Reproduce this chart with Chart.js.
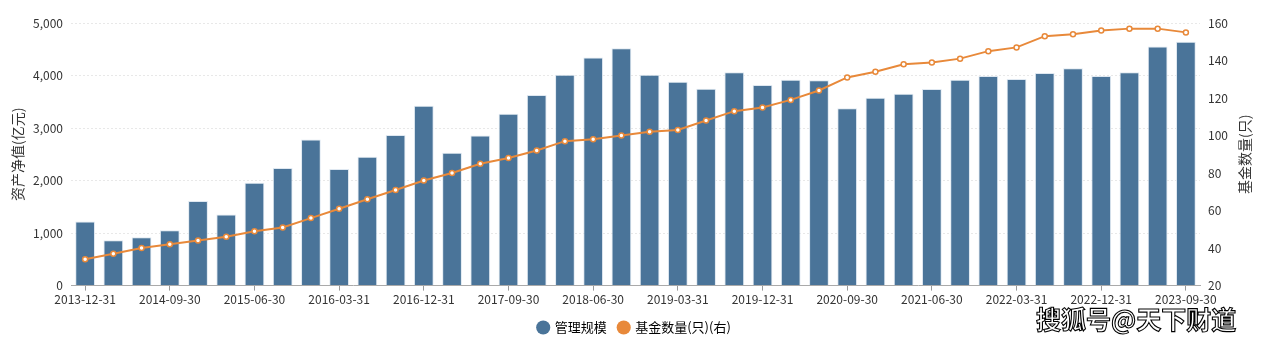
<!DOCTYPE html>
<html>
<head>
<meta charset="utf-8">
<script src="https://cdn.jsdelivr.net/npm/chart.js@4/dist/chart.umd.min.js"></script>
<style>
  html, body { margin: 0; padding: 0; background: #fff; }
  #wrap { position: relative; width: 1269px; height: 344px; }
  #mark {
    position: absolute; left: 1036px; top: 300px;
    font: bold 25px "Noto Sans CJK SC", sans-serif;
    color: #fff; -webkit-text-stroke: 1.1px #000;
  }
</style>
</head>
<body>
<div id="wrap">
  <canvas id="chart" width="1269" height="344"></canvas>
  <div id="mark">搜狐号@天下财道</div>
</div>
<script>
// quarterly report dates
const dates = [
  "2013-12-31", "2014-03-31", "2014-06-30", "2014-09-30",
  "2014-12-31", "2015-03-31", "2015-06-30", "2015-09-30",
  "2015-12-31", "2016-03-31", "2016-06-30", "2016-09-30",
  "2016-12-31", "2017-03-31", "2017-06-30", "2017-09-30",
  "2017-12-31", "2018-03-31", "2018-06-30", "2018-09-30",
  "2018-12-31", "2019-03-31", "2019-06-30", "2019-09-30",
  "2019-12-31", "2020-03-31", "2020-06-30", "2020-09-30",
  "2020-12-31", "2021-03-31", "2021-06-30", "2021-09-30",
  "2021-12-31", "2022-03-31", "2022-06-30", "2022-09-30",
  "2022-12-31", "2023-03-31", "2023-06-30", "2023-09-30"
];

// 管理规模 (亿元), left axis
const aum = [
  1220, 862, 920, 1054, 1609, 1354, 1960, 2241, 2784, 2222,
  2452, 2867, 3423, 2529, 2860, 3270, 3627, 4017, 4342, 4521,
  4017, 3883, 3749, 4061, 3818, 3921, 3908, 3377, 3576, 3653,
  3741, 3921, 3991, 3933, 4048, 4138, 3991, 4061, 4553, 4642
];

// 基金数量 (只), right axis
const fundCount = [
  34, 37, 40, 42, 44, 46, 49, 51, 56, 61,
  66, 71, 76, 80, 85, 88, 92, 97, 98, 100,
  102, 103, 108, 113, 115, 119, 124, 131, 134, 138,
  139, 141, 145, 147, 153, 154, 156, 157, 157, 155
];

const leftTicks = [0, 1000, 2000, 3000, 4000, 5000];
const rightTicks = [20, 40, 60, 80, 100, 120, 140, 160];

const BLUE = "#4a7499";
const ORANGE = "#e8893a";
const FONT = "'Noto Sans CJK SC', 'Microsoft YaHei', sans-serif";

// right axis title reads bottom-to-top like the left one
const rightTitle = {
  id: "rightTitle",
  afterDraw(chart) {
    const { ctx, chartArea } = chart;
    ctx.save();
    ctx.translate(1245, (chartArea.top + chartArea.bottom) / 2);
    ctx.rotate(-Math.PI / 2);
    ctx.font = "14px " + FONT;
    ctx.fillStyle = "#333";
    ctx.textAlign = "center";
    ctx.textBaseline = "middle";
    ctx.fillText("基金数量(只)", 0, 0);
    ctx.restore();
  }
};

const ctx = document.getElementById("chart").getContext("2d");
new Chart(ctx, {
  data: {
    labels: dates,
    datasets: [
      {
        type: "line",
        label: "基金数量(只)(右)",
        data: fundCount,
        yAxisID: "y1",
        borderColor: ORANGE,
        borderWidth: 2,
        pointRadius: 2.5,
        pointBackgroundColor: "#fff",
        pointBorderColor: ORANGE,
        pointBorderWidth: 1.5,
        tension: 0,
        order: 1
      },
      {
        type: "bar",
        label: "管理规模",
        data: aum,
        yAxisID: "y",
        backgroundColor: BLUE,
        borderColor: "rgba(220,230,240,0.9)",
        borderWidth: 1,
        barPercentage: 0.7,
        categoryPercentage: 1,
        order: 2
      }
    ]
  },
  plugins: [rightTitle],
  options: {
    responsive: false,
    animation: false,
    layout: { padding: { top: 23, bottom: 0, left: 0, right: 0 } },
    plugins: {
      tooltip: { enabled: false },
      legend: {
        position: "bottom",
        reverse: true,
        labels: {
          usePointStyle: true,
          pointStyle: "circle",
          boxWidth: 10,
          boxHeight: 10,
          padding: 12,
          color: "#333",
          font: { family: FONT, size: 13 },
          generateLabels(chart) {
            return chart.data.datasets.map((ds, i) => ({
              text: ds.label,
              fillStyle: ds.type === "line" ? ds.borderColor : ds.backgroundColor,
              strokeStyle: ds.type === "line" ? ds.borderColor : ds.backgroundColor,
              lineWidth: 0,
              pointStyle: "circle",
              hidden: false,
              datasetIndex: i
            }));
          }
        }
      }
    },
    scales: {
      x: {
        offset: true,
        grid: {
          offset: false,
          drawOnChartArea: false,
          tickLength: 5,
          tickColor: (c) => (c.index % 3 === 0 ? "#999" : "rgba(0,0,0,0)")
        },
        border: { color: "#aaa" },
        ticks: {
          autoSkip: false,
          maxRotation: 0,
          padding: 2,
          color: "#333",
          font: { family: FONT, size: 12 },
          callback(value, index) {
            return index % 3 === 0 ? dates[index] : "";
          }
        }
      },
      y: {
        position: "left",
        min: 0,
        max: 5000,
        afterBuildTicks(scale) { scale.ticks = leftTicks.map(v => ({ value: v })); },
        afterFit(scale) { scale.width = 71; },
        grid: { color: "#e8e8e8", drawTicks: false },
        border: { display: false, dash: [2, 2] },
        ticks: {
          padding: 8,
          color: "#333",
          font: { family: FONT, size: 12 },
          callback: (v) => v.toLocaleString("en-US")
        },
        title: {
          display: true,
          text: "资产净值(亿元)",
          color: "#333",
          padding: { top: 9, bottom: 0 },
          font: { family: FONT, size: 14 }
        }
      },
      y1: {
        position: "right",
        min: 20,
        max: 160,
        afterBuildTicks(scale) { scale.ticks = rightTicks.map(v => ({ value: v })); },
        afterFit(scale) { scale.width = 69; },
        grid: { drawOnChartArea: false, drawTicks: false },
        border: { display: false },
        ticks: {
          padding: 8,
          color: "#333",
          font: { family: FONT, size: 12 }
        }
      }
    }
  }
});
</script>
</body>
</html>
